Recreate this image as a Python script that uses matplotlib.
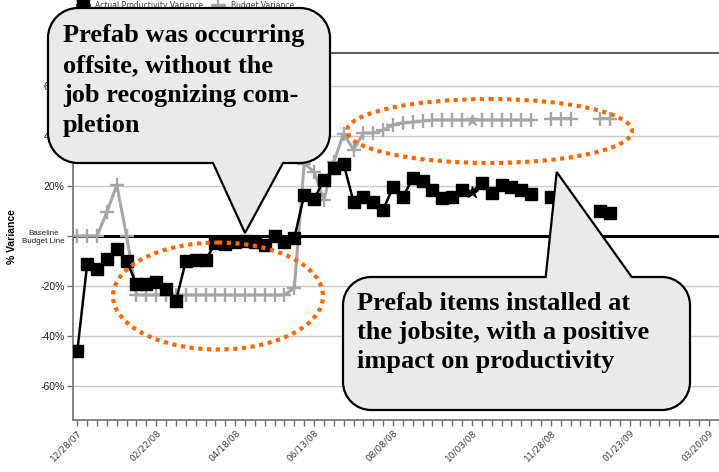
import matplotlib
matplotlib.use('Agg')
import numpy as np
import pandas as pd
import matplotlib.pyplot as plt
import matplotlib.dates as mdates
from matplotlib.path import Path
from matplotlib.patches import PathPatch, Ellipse
from matplotlib.transforms import Affine2D
from matplotlib.ticker import FixedLocator

# ---------------- data ----------------
start_date = '2007-12-28'
n_weeks = 55
nan = np.nan
actual = [-46, -11.3, -13, -9.2, -5.2, -10, -19.2, -19.2, -18.4, -21.2,
          -26, -10, -9.6, -9.6, -2.8, -3.2, -2.4, -2.0, -2.4, -3.6,
          0, -2.4, -0.8, 16.4, 14.8, 22.4, 27.2, 28.8, 13.7, 15.6,
          13.6, 10.4, 19.6, 15.6, 23.2, 22, 18.4, 15.2, 15.6, 18.4,
          17.6, 21.2, 17.2, 20.4, 19.6, 18.4, 16.8, nan, 15.6, nan,
          nan, nan, nan, 10, 9.2]
budget = [0, 0, 0, 9.6, 20.4, 0, -23.6, -23.6, -23.6, -23.6,
          -23.6, -23.6, -23.6, -23.6, -23.6, -23.6, -23.6, -23.6, -23.6, -23.6,
          -23.6, -23.6, -20.7, 29, 25.7, 14.4, 29.7, 41, 34.4, 41.2,
          41.2, 42.4, 44.4, 45.2, 45.6, 46, 46.4, 46.4, 46.4, 46.4,
          46.4, 46.4, 46.4, 46.4, 46.4, 46.4, 46.4, nan, 47, 47,
          47, nan, nan, 47, 47]
star_week = 40
series_labels = ['Actual Productivity Variance', 'Budget Variance']
ytick_values = [-60, -40, -20, 0, 20, 40, 60]
ytick_labels = ['-60%', '-40%', '-20%', 'Baseline\nBudget Line', '20%', '40%', '60%']
xtick_count = 9
xtick_step_days = 56

callout1_lines = ['Prefab was occurring', 'offsite, without the',
                  'job recognizing com-', 'pletion']
callout2_lines = ['Prefab items installed at', 'the jobsite, with a positive',
                  'impact on productivity']

# ---------------- figure ----------------
W, H = 719, 472
fig = plt.figure(figsize=(W / 100, H / 100), dpi=100)
ax = fig.add_axes([73 / W, 1 - 420 / H, 1 - 73 / W, (420 - 53) / H])

weeks = pd.date_range(start_date, periods=n_weeks, freq='7D')
actual_arr = np.array(actual, dtype=float)
budget_arr = np.array(budget, dtype=float)
mark_idx = [i for i in range(n_weeks) if i != star_week]

ax.axhline(0, color='black', lw=2.2, zorder=2)
l_budget, = ax.plot(weeks, budget_arr, color='#A6A6A6', lw=2.2, marker='+',
                    ms=10, mew=1.7, markevery=mark_idx, zorder=3)
ax.plot(weeks[star_week:star_week + 1], budget_arr[star_week:star_week + 1],
        ls='none', marker='*', ms=9, color='#A6A6A6', zorder=3)
l_actual, = ax.plot(weeks, actual_arr, color='black', lw=1.8, marker='s',
                    ms=9, markevery=mark_idx, zorder=4)
ax.plot(weeks[star_week:star_week + 1], actual_arr[star_week:star_week + 1],
        ls='none', marker='*', ms=9, color='black', zorder=4)

t0 = pd.Timestamp(start_date)
ax.set_xlim(mdates.date2num(t0 - pd.Timedelta(days=3.05)),
            mdates.date2num(t0 + pd.Timedelta(days=455.3)))
ax.set_ylim(-73.6, 73.2)

major = pd.date_range(start_date, periods=xtick_count, freq=f'{xtick_step_days}D')
minor = pd.date_range(start_date, periods=70, freq='7D')
ax.xaxis.set_major_locator(FixedLocator(mdates.date2num(major)))
ax.xaxis.set_minor_locator(FixedLocator(mdates.date2num(minor)))
ax.xaxis.set_major_formatter(mdates.DateFormatter('%m/%d/%y'))
ax.tick_params(axis='x', which='both', length=4, width=1, color='#707070',
               labelsize=6.5, labelcolor='#404040', pad=2)
for lbl in ax.get_xticklabels():
    lbl.set_rotation(45)
    lbl.set_ha('right')
    lbl.set_rotation_mode('anchor')

ax.set_yticks(ytick_values)
ax.set_yticklabels(ytick_labels)
ax.tick_params(axis='y', length=4, width=1, color='#707070', labelsize=7.5,
               labelcolor='#202020', pad=2)
for v, lbl in zip(ytick_values, ax.get_yticklabels()):
    lbl.set_family('Liberation Sans')
    if v == 0:
        lbl.set_fontsize(5.8)
        lbl.set_multialignment('center')
ax.set_ylabel('% Variance', fontsize=7.5, weight='bold', family='Liberation Sans')
ax.yaxis.set_label_coords((17 - 73) / (W - 73), 0.5)

ax.yaxis.grid(True, color='#C8C8C8', lw=1)
ax.set_axisbelow(True)
for s in ['left', 'bottom']:
    ax.spines[s].set_color('#707070')
    ax.spines[s].set_linewidth(1.2)
ax.spines['top'].set_color('#606060')
ax.spines['top'].set_linewidth(1.5)
ax.spines['right'].set_visible(False)

fig.legend(handles=[l_actual, l_budget], labels=series_labels,
           loc='center left', bbox_to_anchor=(72 / W, 1 - 5 / H), ncol=2,
           frameon=False, fontsize=5.5, handlelength=1.6, columnspacing=1.2,
           labelcolor='#404040', borderpad=0.1, handleheight=0.5)

# ---------------- annotations (pixel coordinates, y downward) ----------------
T = Affine2D().scale(1 / W, -1 / H).translate(0, 1) + fig.transFigure

for (cx, cy, ew, eh) in [(218, 296, 210, 107), (489.5, 131, 285, 64)]:
    fig.add_artist(Ellipse((cx, cy), ew, eh, transform=T, fill=False,
                           ec='#FF6600', lw=3, ls=(0, (1, 1.1)), zorder=5))


def callout_path(x0, y0, x1, y1, r, edge, tb0, tb1, apex):
    k = 0.5523 * r
    V, C = [], []

    def mv(p):
        V.append(p); C.append(Path.MOVETO)

    def ln(p):
        V.append(p); C.append(Path.LINETO)

    def cv(c1, c2, p):
        V.extend([c1, c2, p]); C.extend([Path.CURVE4] * 3)

    mv((x0 + r, y0))
    if edge == 'top':
        ln((tb0, y0)); ln(apex); ln((tb1, y0))
    ln((x1 - r, y0))
    cv((x1 - r + k, y0), (x1, y0 + r - k), (x1, y0 + r))
    ln((x1, y1 - r))
    cv((x1, y1 - r + k), (x1 - r + k, y1), (x1 - r, y1))
    if edge == 'bottom':
        ln((tb1, y1)); ln(apex); ln((tb0, y1))
    ln((x0 + r, y1))
    cv((x0 + r - k, y1), (x0, y1 - r + k), (x0, y1 - r))
    ln((x0, y0 + r))
    cv((x0, y0 + r - k), (x0 + r - k, y0), (x0 + r, y0))
    C.append(Path.CLOSEPOLY); V.append((x0 + r, y0))
    return Path(V, C)


p1 = callout_path(48, 8, 330, 163, 30, 'bottom', 213, 283, (245, 233))
p2 = callout_path(343, 277, 690, 410, 28, 'top', 545.7, 631.7, (556.7, 172))
for p in (p1, p2):
    fig.add_artist(PathPatch(p, transform=T, fc='#EAEAEA', ec='black',
                             lw=1.6, zorder=10, joinstyle='miter'))

for i, s in enumerate(callout1_lines):
    y = 42 + 30 * i
    fig.text(63 / W, 1 - y / H, s, family='Liberation Serif', weight='bold',
             size=19, ha='left', va='baseline', zorder=11)
for i, s in enumerate(callout2_lines):
    y = 310 + 29 * i
    fig.text(357 / W, 1 - y / H, s, family='Liberation Serif', weight='bold',
             size=19, ha='left', va='baseline', zorder=11)

fig.savefig('out.png', dpi=100)
